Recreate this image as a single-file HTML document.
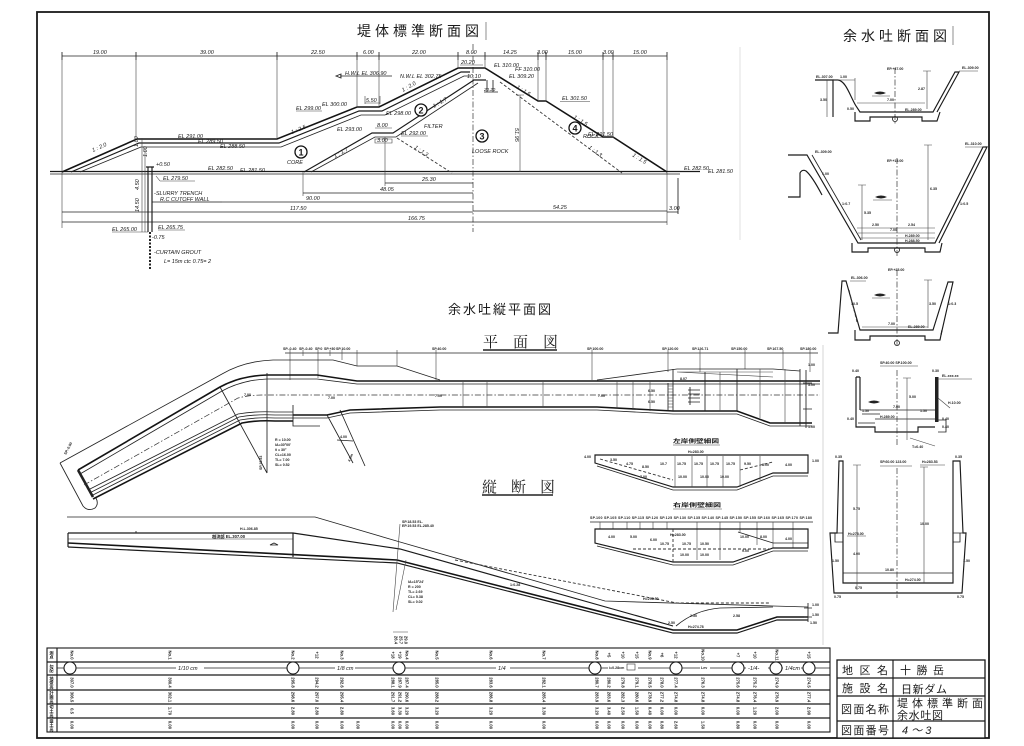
<!DOCTYPE html>
<html><head><meta charset="utf-8"><title>堤体標準断面図・余水吐図</title>
<style>
html,body{margin:0;padding:0;background:#fff;width:1024px;height:746px;overflow:hidden}
svg{display:block}
.l{fill:none;stroke:#1a1a1a;stroke-width:1.15}
.b{fill:none;stroke:#141414;stroke-width:1.6}
.m{fill:none;stroke:#222;stroke-width:0.85}
.n{fill:none;stroke:#444;stroke-width:0.6}
.d{fill:none;stroke:#333;stroke-width:0.7;stroke-dasharray:6 2 1.5 2}
.ds{fill:none;stroke:#333;stroke-width:0.9;stroke-dasharray:3 2}
.t{font-family:"Liberation Sans","Noto Sans CJK JP",sans-serif;font-style:italic;fill:#161616;font-size:5.5px}
.s{font-family:"Liberation Sans","Noto Sans CJK JP",sans-serif;font-weight:bold;fill:#222;font-size:3.6px}
.v{font-family:"Liberation Sans","Noto Sans CJK JP",sans-serif;font-weight:bold;fill:#222;font-size:4.2px;writing-mode:vertical-rl}
.j{font-family:"Liberation Sans","Noto Sans CJK JP",sans-serif;fill:#1a1a1a}
.k{font-family:"Liberation Serif","Noto Serif CJK SC",serif;fill:#1a1a1a}
</style></head><body>
<svg width="1024" height="746" viewBox="0 0 1024 746" xmlns="http://www.w3.org/2000/svg">
<rect x="0" y="0" width="1024" height="746" fill="#fff"/>
<!-- frame -->
<rect x="37" y="12" width="952" height="726" fill="none" stroke="#1a1a1a" stroke-width="1.8"/>
<line x1="740" y1="47" x2="740" y2="240" stroke="#ccc" stroke-width="0.6"/>
<line x1="823" y1="345" x2="823" y2="645" stroke="#bbb" stroke-width="0.6"/>

<!-- ================= DAM SECTION ================= -->
<text class="j" x="357" y="36" font-size="14" letter-spacing="4">堤体標準断面図</text>
<line class="n" x1="486" y1="22" x2="486" y2="40"/>

<path class="m" d="M62,56 H667"/>
<path class="m" d="M62,52V60M136,52V60M277,52V60M357,52V60M379,52V60M458,52V60M485,52V60M538,52V60M546,52V60M603,52V60M613,52V60M667,52V60"/>
<path class="n" d="M62,56V228M136,56V138M277,56V138M357,56V106M379,56V106M458,56V67M485,56V67M538,56V100M546,56V100M603,56V136M613,56V136M667,56V225"/>
<line class="d" x1="473" y1="44" x2="473" y2="232"/>
<g class="t">
<text x="93" y="54">19.00</text><text x="200" y="54">39.00</text><text x="311" y="54">22.50</text>
<text x="363" y="54">6.00</text><text x="412" y="54">22.00</text><text x="466" y="54">8.00</text>
<text x="503" y="54">14.25</text><text x="537" y="54">3.00</text><text x="568" y="54">15.00</text>
<text x="603" y="54">3.00</text><text x="633" y="54">15.00</text>
</g>

<!-- ground -->
<path class="l" d="M50,171.5 H700"/>
<path class="m" d="M50,174 H680"/>
<!-- outer surface -->
<path class="b" d="M62,172 L137,139 L277,139 L357,107 L379,107 L458,68 L485,68 L538,101 L546,101 L603,137 L613,137 L667,172"/>
<path class="l" d="M71,172 L139,143 L279,143 L359,111 L382,111 L461,72 L470,72"/>
<path class="m" d="M80,172 L141,147 L281,147 L361,115 L385,115 L464,76 L470,76"/>
<!-- core / filter -->
<path class="l" d="M304,172 L372,133 L393,133 L474,80 L486,80"/>
<path class="m" d="M311,172 L375,137 L396,137 L478,83"/>
<path class="ds" d="M397,138 L452,173"/>
<path class="ds" d="M500,82 L622,173"/>
<path class="m" d="M487,80 V92 M493,80 V92 M484,92 H498"/>
<path class="n" d="M520,95 V172 M516,95 H524"/>
<path class="n" d="M460,65 H483"/>
<path class="n" d="M365,103 H380 M365,96 V104 M380,96 V104"/>
<path class="n" d="M375,128 H392 M375,139 H392 V143 H375 Z"/>
<path class="m" d="M340,76 H392"/>
<path class="m" d="M336,76 l5,-2 v4 z" fill="#222"/>

<!-- circles -->
<g class="j" font-weight="bold" font-size="9" text-anchor="middle">
<circle cx="301" cy="152" r="6" fill="#fff" stroke="#111" stroke-width="1.3"/><text x="301" y="155.5">1</text>
<circle cx="421" cy="110" r="6" fill="#fff" stroke="#111" stroke-width="1.3"/><text x="421" y="113.5">2</text>
<circle cx="482" cy="136" r="6" fill="#fff" stroke="#111" stroke-width="1.3"/><text x="482" y="139.5">3</text>
<circle cx="575" cy="128" r="6" fill="#fff" stroke="#111" stroke-width="1.3"/><text x="575" y="131.5">4</text>
</g>
<g class="t">
<text x="287" y="164">CORE</text>
<text x="424" y="128">FILTER</text>
<text x="472" y="153">LOOSE ROCK</text>
<text x="583" y="138">ROCK</text>
<text x="178" y="138">EL 291.00</text><path class="n" d="M178,139.5 H205"/>
<text x="198" y="143">EL 289.50</text>
<text x="220" y="148">EL 288.50</text>
<text x="296" y="110">EL 299.00</text><path class="n" d="M296,111 H322"/>
<text x="322" y="106">EL 300.00</text>
<text x="366" y="102">5.50</text>
<text x="345" y="75">H.W.L EL 306.90</text>
<text x="400" y="78">N.W.L EL 302.75</text>
<text x="386" y="115">EL 298.00</text>
<text x="337" y="131">EL 293.00</text>
<text x="377" y="127">8.00</text>
<text x="377" y="142">3.00</text>
<text x="401" y="135">EL 292.00</text><path class="n" d="M401,136 H428"/>
<text x="461" y="64">20.20</text>
<text x="467" y="78">10.10</text>
<text x="484" y="91" font-size="4.5">20.20</text>
<text x="494" y="67">EL 310.00</text>
<text x="515" y="71">FF 310.00</text>
<text x="509" y="78">EL 309.20</text>
<text x="562" y="100">EL 301.50</text><path class="n" d="M560,101.5 H590"/>
<text x="588" y="136">EL 291.50</text><path class="n" d="M586,137.5 H615"/>
<text x="684" y="170">EL 282.50</text>
<text x="708" y="173">EL 281.50</text>
<text x="208" y="170">EL 282.50</text>
<text x="240" y="172">EL 281.50</text>
<text x="93" y="152" transform="rotate(-24 93 152)">1 : 2.0</text>
<text x="292" y="134" transform="rotate(-22 292 134)">1 : 2.5</text>
<text x="403" y="92" transform="rotate(-30 403 92)">1 : 2.0</text>
<text x="434" y="108" transform="rotate(-30 434 108)">1 : 1.7</text>
<text x="335" y="158" transform="rotate(-30 335 158)">1 : 1.7</text>
<text x="414" y="148" transform="rotate(34 414 148)">1 : 1.3</text>
<text x="516" y="88" transform="rotate(32 516 88)">1 : 1.5</text>
<text x="573" y="118" transform="rotate(32 573 118)">1 : 1.5</text>
<text x="632" y="156" transform="rotate(32 632 156)">1 : 1.5</text>
<text x="588" y="148" transform="rotate(36 588 148)">1 : 1.3</text>
<text x="515" y="128" transform="rotate(90 515 128)">51.95</text>
</g>

<!-- lower dims -->
<path class="n" d="M385,137 V186 M303,172 V196"/>
<path class="m" d="M385,183 H473 M303,193 H473 M152,202 H473 M62,212 H473 M62,222 H667 M473,211 H667 M667,212 H678 M678,178 V214"/>
<g class="t">
<text x="422" y="181">25.30</text><text x="380" y="191">48.05</text><text x="306" y="200">90.00</text>
<text x="290" y="210">117.50</text><text x="408" y="220">166.75</text><text x="553" y="209">54.25</text><text x="669" y="210">3.00</text>
</g>

<!-- cutoff wall -->
<path class="l" d="M148,167 V232 M152,167 V232 M146,167 H154"/>
<line x1="150" y1="232" x2="150" y2="270" stroke="#222" stroke-width="2" stroke-dasharray="2 1.5"/>
<path class="n" d="M142,138 V232 M145,150 V232"/>
<path class="n" d="M160,181 H195 M160,181 L156,176 M112,232 H148 M158,230 H185 M160,202 H222"/>
<g class="t">
<text x="156" y="166">+0.50</text>
<text x="163" y="180">EL 279.50</text>
<text x="154" y="195">-SLURRY TRENCH</text>
<text x="160" y="201">R.C CUTOFF WALL</text>
<text x="158" y="229">EL 265.75</text>
<text x="112" y="231">EL 265.00</text>
<text x="152" y="239">-0.75</text>
<text x="154" y="254">-CURTAIN GROUT</text>
<text x="164" y="263">L= 15m ctc 0.75= 2</text>
<text x="138" y="147" transform="rotate(-90 138 147)">1.00</text>
<text x="139" y="190" transform="rotate(-90 139 190)">4.50</text>
<text x="139" y="212" transform="rotate(-90 139 212)">14.50</text>
<text x="147" y="157" transform="rotate(-90 147 157)">1.00</text>
</g>

<!-- ================= SPILLWAY SECTIONS (right) ================= -->
<text class="j" x="843" y="41" font-size="14" letter-spacing="4">余水吐断面図</text>
<line class="n" x1="953" y1="26" x2="953" y2="45"/>

<!-- section 1 -->
<path class="l" d="M815,80 H833 V117"/>
<path class="l" d="M833,80 H838 C846,81 850,96 856,106 L860,112 H933 L955,72 H959 L937,112"/>
<path class="l" d="M855,112 V121 H870 V117 H922 V121 H937 L940,112"/>
<line class="d" x1="895" y1="68" x2="895" y2="124"/>
<circle cx="895" cy="119" r="2.5" class="m"/>
<path class="n" d="M857,103 H925 M927,71 V109 M923,71 H931 M833,80 H855 M855,78 V100 M959,71 H978 M827,80 V117"/>
<path d="M874,93 q6,-3 12,0 q-6,3 -12,0z" fill="#222"/><path class="n" d="M872,96 H890"/>
<g class="s">
<text x="887" y="70">EP.+37.00</text><text x="816" y="78">EL.307.00</text><text x="840" y="78">1.00</text>
<text x="887" y="101">7.00</text><text x="905" y="111">EL.289.00</text><text x="962" y="69">EL.309.00</text>
<text x="918" y="90">2.87</text><text x="820" y="101">3.50</text><text x="847" y="110">0.50</text>
</g>

<!-- section 2 -->
<path class="l" d="M788,197 H800 V173 Q802,169 806,171 Q812,176 822,195"/>
<path class="l" d="M788,155 H807 L858,243 H935 L983,147 H987 L939,243"/>
<path class="m" d="M812,155 L861,240"/>
<path class="l" d="M852,243 V252 H868 V248 H925 V252 H940 L942,243"/>
<line class="d" x1="897" y1="158" x2="897" y2="256"/>
<circle cx="897" cy="250" r="2.5" class="m"/>
<path class="n" d="M857,228 H935 M858,233 H935 M860,238 H935 M862,185 V240 M858,185 H866 M928,145 V240 M924,145 H932 M965,147 H985"/>
<path d="M875,197 q6,-3 12,0 q-6,3 -12,0z" fill="#222"/><path class="n" d="M873,200 H892"/>
<g class="s">
<text x="815" y="153">EL.309.00</text><text x="887" y="162">EP.+15.00</text><text x="965" y="145">EL.310.00</text>
<text x="872" y="226">2.50</text><text x="908" y="226">2.54</text><text x="890" y="231">7.00</text>
<text x="905" y="237">H.289.00</text><text x="905" y="242">H.288.50</text><text x="864" y="214">5.35</text>
<text x="930" y="190">6.35</text><text x="822" y="175">1.00</text><text x="842" y="205">1:0.7</text><text x="960" y="205">1:0.5</text>
</g>

<!-- section 3 -->
<path class="l" d="M828,333 H838 L842,281 H846 L860,330 H933 L948,282 H953 L941,335"/>
<path class="ds" d="M849,290 L857,322"/>
<path class="l" d="M855,330 V340 H870 V336 H925 V340 H940 L942,330"/>
<line class="d" x1="897" y1="270" x2="897" y2="346"/>
<circle cx="897" cy="343" r="2.5" class="m"/>
<path class="n" d="M928,280 V328 M924,280 H932 M862,327 H928 M850,281 H866"/>
<path d="M874,295 q6,-3 12,0 q-6,3 -12,0z" fill="#222"/><path class="n" d="M872,298 H890"/>
<g class="s">
<text x="888" y="271">EP.+25.00</text><text x="851" y="279">EL.306.00</text><text x="888" y="325">7.00</text>
<text x="908" y="328">EL.289.00</text><text x="929" y="305">3.50</text><text x="948" y="305">1:0.3</text><text x="851" y="305">10.5</text>
</g>

<!-- section 4 -->
<text class="s" x="880" y="364">SP.40.00   SP.100.00</text>
<path class="n" d="M880,366 H918"/>
<path class="l" d="M856,377 V427 H875 V432 H918 V427 H935 M860,377 V410 M856,377 H860"/>
<rect x="935" y="377" width="3.5" height="45" fill="#222"/>
<path class="m" d="M860,410 H935 M862,414 H880 M875,419 H935 M858,423 H875 M938,420 H946 V432 H938"/>
<path class="n" d="M938,379 H972 M907,378 V440 M903,378 H911 M910,438 L935,446 M938,398 L950,408"/>
<line class="d" x1="897" y1="370" x2="897" y2="445"/>
<path d="M868,402 q6,-3 12,0 q-6,3 -12,0z" fill="#222"/>
<g class="s">
<text x="852" y="372">0.40</text><text x="932" y="372">0.30</text><text x="942" y="377">EL.xxx.xx</text>
<text x="893" y="408">7.00</text><text x="909" y="398">5.00</text><text x="862" y="412">1.50</text><text x="920" y="412">1.50</text>
<text x="942" y="420">0.40</text><text x="942" y="428">0.40</text><text x="912" y="448">T=0.40</text><text x="948" y="404">H.10.00</text>
<text x="880" y="418">H.289.00</text><text x="847" y="420">0.40</text>
</g>

<!-- section 5 -->
<text class="s" x="880" y="463">SP.60.00  123.00</text>
<path class="n" d="M880,466 H912"/>
<text class="s" x="922" y="463">H=283.53</text>
<path class="n" d="M920,465 H945"/>
<path class="l" d="M839,461 H843 V583 H953 V461 H960 L963,533 H966 L962,593 H834 L830,533 H837 Z"/>
<path class="m" d="M843,573 H953 M830,533 H843 M953,533 H966 M835,533 V542 H843 M953,542 H960 V533"/>
<line class="d" x1="897" y1="468" x2="897" y2="598"/>
<path class="n" d="M857,465 V590 M853,465 H861 M924,467 V583 M920,467 H928 M847,536 H866"/>
<g class="s">
<text x="835" y="458">0.35</text><text x="955" y="458">0.35</text><text x="853" y="510">5.75</text>
<text x="848" y="535">H=278.00</text><text x="853" y="555">4.00</text><text x="920" y="525">10.00</text>
<text x="885" y="571">10.80</text><text x="905" y="581">H=274.00</text><text x="834" y="598">0.75</text>
<text x="957" y="598">0.75</text><text x="855" y="589">0.75</text><text x="832" y="562">1.50</text><text x="963" y="562">1.50</text>
</g>

<!-- ================= PLAN ================= -->
<text class="j" x="448" y="314" font-size="13" letter-spacing="2">余水吐縦平面図</text>
<text class="k" x="483" y="347" font-size="15" letter-spacing="15">平面図</text>
<path d="M483,350 H557" stroke="#222" stroke-width="1.6"/>

<path class="m" d="M285,353 H818"/>
<path class="n" d="M290,350V380 M303,350V356 M318,350V378 M330,350V356 M342,350V360 M357,350V366 M397,350V366 M436,350V380 M592,350V380 M668,350V372 M700,350V372 M745,350V369 M783,350V369 M810,350V372"/>
<g class="s">
<text x="283" y="350">SP.-0.40</text><text x="299" y="350">SP.-0.40</text><text x="315" y="350">SP.0</text><text x="324" y="350">SP.+30</text><text x="336" y="350">SP.10.00</text>
<text x="432" y="350">SP.40.00</text><text x="587" y="350">SP.100.00</text><text x="662" y="350">SP.120.00</text><text x="692" y="350">SP.126.71</text>
<text x="731" y="350">SP.150.00</text><text x="767" y="350">SP.167.50</text><text x="800" y="350">SP.180.00</text>
</g>

<!-- outer top boundary -->
<path class="m" d="M60,463 L222,374 Q244,361 273,360 H333 L357,366 H397 L440,380"/>
<path class="m" d="M60,463 L83,506 Q88,512 95,508 Q99,504 96,498"/>
<path d="M78,470 L93,497" stroke="#222" stroke-width="2.6"/>
<!-- walls -->
<path class="b" d="M78,470 L220,387 Q240,376 267,375 H317 L357,381 H820"/>
<path class="m" d="M80,474 L222,391 Q242,380 267,379 H317 L357,384 H820"/>
<path class="d" d="M84,485 L238,398 Q250,395 262,395 H820"/>
<path class="m" d="M88,490 L238,414 Q255,411 275,412 H293"/>
<path class="m" d="M89.5,493 L239,417 Q256,414 275,415 H293"/>
<path class="m" d="M91,496 L240,420 Q257,417 275,418 H293"/>
<path class="b" d="M93,499 L242,423 Q258,420 275,421 H293"/>
<path class="b" d="M293,415 H327 L350,410 L440,407 H597 L673,411 H737 L770,423 H812"/>
<path class="m" d="M293,418 H327 L350,413 L440,410 H597 L673,414 H737 L770,426 H812"/>
<path class="m" d="M293,405 V426 M293,422 V426 H320"/>
<!-- right widening -->
<path class="m" d="M597,380 L677,369 H773 L800,371"/>
<path class="n" d="M677,372 H773 M677,372 L773,377"/>
<path class="m" d="M668,383 V411 M673,369 V411 M705,372 V411 M737,369 V411 M800,369 V426"/>
<path class="n" d="M668,386H673M668,389H673M668,392H673M668,395H673M668,398H673M668,401H673M668,404H673M668,407H673"/>
<path class="n" stroke="#888" d="M463,382V407 M487,382V407 M543,382V407 M617,381V409 M633,381V410 M650,381V411 M720,372V411 M760,369V418 M785,369V424"/>
<path class="m" d="M688,390 H700 M688,394 H700 M688,398 H700 M688,402 H700 M690,387 V405"/>
<path class="m" d="M806,370 V428 M803,383 H812 M803,409 H812"/>
<!-- radiating lines -->
<path class="m" d="M220,387 L267,473 M267,373 V473 M327,415 L353,463 M340,410 L365,466 M337,440 L353,441"/>
<g class="s">
<text x="275" y="441">R = 10.00</text><text x="275" y="446">IA=30°00'</text><text x="275" y="451">θ = 30°</text>
<text x="275" y="456">CL=16.00</text><text x="275" y="461">TL= 7.00</text><text x="275" y="466">SL= 0.52</text>
<text x="340" y="438">4.00</text><text x="244" y="396">7.00</text><text x="328" y="399">7.00</text><text x="435" y="397">7.00</text>
<text x="598" y="397">7.00</text><text x="680" y="380">8.07</text><text x="808" y="366">1.00</text><text x="808" y="386">3.00</text>
<text x="808" y="428">1.00</text><text x="262" y="470" transform="rotate(-90 262 470)">SP.18.53</text>
<text x="350" y="462" transform="rotate(-68 350 462)">4.0m</text>
<text x="66" y="455" transform="rotate(-62 66 455)">SP.-0.00</text>
<text x="648" y="392">6.50</text><text x="648" y="403">6.50</text>
</g>

<!-- left bank detail -->
<text class="j" x="673" y="443" font-size="5.5" font-weight="bold" textLength="46" lengthAdjust="spacingAndGlyphs">左岸側壁細図</text>
<path class="n" d="M673,445 H720"/>
<path class="l" d="M595,455 H808 V473 H773 L737,487 H673 L595,463 Z"/>
<path class="m" d="M597,466 L673,490 H737 L773,476 H808"/>
<path class="ds" d="M600,459 L673,480 M740,470 L773,462"/>
<path class="n" d="M675,456V487 M692,456V487 M707,456V487 M723,456V487 M740,456V487 M760,456V480"/>
<g class="s">
<text x="688" y="453">H=283.00</text><text x="584" y="458">4.00</text><text x="812" y="462">1.00</text>
<text x="610" y="461">3.50</text><text x="626" y="465">4.75</text><text x="642" y="468">8.50</text>
<text x="660" y="465">10.7</text><text x="677" y="465">10.75</text><text x="694" y="465">10.75</text>
<text x="710" y="465">10.75</text><text x="726" y="465">10.75</text><text x="744" y="465">9.50</text>
<text x="762" y="466">8.00</text><text x="785" y="466">4.00</text><text x="678" y="478">10.00</text>
<text x="700" y="478">10.00</text><text x="720" y="478">10.00</text><text x="640" y="478">7.00</text>
</g>

<!-- right bank detail -->
<text class="j" x="673" y="507" font-size="5.5" font-weight="bold" textLength="48" lengthAdjust="spacingAndGlyphs">右岸側壁細図</text>
<path class="n" d="M673,509 H722"/>
<text class="s" x="590" y="519" textLength="222" lengthAdjust="spacing">SP.100 SP.105 SP.110 SP.115 SP.120 SP.125 SP.130 SP.135 SP.140 SP.145 SP.150 SP.155 SP.160 SP.165 SP.170 SP.180</text>
<path class="m" d="M590,522 H813"/>
<path class="n" d="M600,522V529 M613,522V529 M627,522V529 M640,522V529 M653,522V529 M667,522V529 M697,522V560 M720,522V560 M740,522V532 M757,522V545 M773,522V548 M793,522V548"/>
<path class="l" d="M595,529 H808 V548 H773 L733,562 H673 L595,543 Z"/>
<path class="m" d="M597,546 L673,565 H733 L773,551 H808 M738,532 L773,543 H808"/>
<path class="ds" d="M633,549 H773 M673,529 V562"/>
<g class="s">
<text x="670" y="536">H=283.00</text><text x="608" y="538">4.00</text><text x="630" y="538">5.00</text>
<text x="650" y="541">6.00</text><text x="660" y="545">10.75</text><text x="682" y="545">10.75</text>
<text x="700" y="545">10.50</text><text x="740" y="538">10.00</text><text x="760" y="538">8.00</text>
<text x="785" y="540">4.00</text><text x="680" y="556">10.00</text><text x="700" y="556">10.00</text><text x="742" y="552">9.00</text>
</g>

<!-- ================= PROFILE ================= -->
<text class="k" x="482" y="492" font-size="15" letter-spacing="14">縦断図</text>
<path d="M482,495 H553" stroke="#222" stroke-width="1.6"/>
<path class="m" d="M67,517 H315 L400,542 L605,601 L773,606 L808,607"/>
<path class="ds" d="M455,560 L677,603 H770" stroke-dasharray="10 3"/>
<path class="l" d="M68,533 H293 L400,549 L673,626"/>
<path class="n" d="M68,539 H293"/>
<path class="b" d="M68,543 L397,560 L673,630 H737 L777,617 H808"/>
<path class="l" d="M68,547 L397,563 L673,633 H737 L777,620 H808"/>
<path class="l" d="M68,533 V547 M293,533 V557"/>
<path class="m" d="M676,626 Q695,610 720,608 L773,607"/>
<path class="m" d="M808,603 V622 M804,608 H812 M804,617 H812"/>
<path class="n" d="M400,524 L393,612 M406,560 L396,610 M393,632 H408"/>
<path class="m" d="M136,533 v-2 M270,545 l4,-2 l4,2 z"/>
<g class="s">
<text x="240" y="530">H.L.306.85</text>
<text x="212" y="538" font-size="4.2">越流部 EL.307.00</text>
<text x="402" y="523">SP.18.53 EL.</text><text x="402" y="527">EP.19.53 EL.285.40</text>
<text x="408" y="583">IA=15°24'</text><text x="408" y="588">R = 200</text><text x="408" y="593">TL= 2.69</text>
<text x="408" y="598">CL= 5.38</text><text x="408" y="603">SL= 0.02</text>
<text x="643" y="600">H=298.50</text><text x="668" y="624">2.50</text><text x="690" y="617">2.50</text>
<text x="688" y="628">H=274.78</text><text x="733" y="617">2.58</text><text x="812" y="606">1.00</text>
<text x="812" y="616">1.50</text><text x="810" y="624">1.50</text><text x="510" y="586">1:0.28</text>
</g>
<text class="v" x="396" y="640" text-anchor="middle">26.4</text>
<text class="v" x="401" y="640" text-anchor="middle">25.7</text>
<text class="v" x="406" y="640" text-anchor="middle">29.0</text>

<!-- ================= BOTTOM TABLE ================= -->
<rect x="47" y="648" width="783" height="84" fill="none" stroke="#1a1a1a" stroke-width="1.1"/>
<path class="l" d="M47,662 H830 M47,675 H830 M47,690 H830 M47,704 H830 M47,718 H830 M57,648 V732"/>
<g class="j" font-size="4.2" style="writing-mode:vertical-rl" text-anchor="middle" font-weight="bold">
<text x="52" y="655">測点</text><text x="52" y="668.5">勾配</text><text x="52" y="682.5">地盤高</text>
<text x="52" y="697">計画高</text><text x="52" y="711">切土高</text><text x="52" y="725">盛土高</text>
</g>
<path class="m" d="M57,668 H830"/>
<rect x="176" y="664" width="28" height="8" fill="#fff"/><text class="t" x="178" y="670" font-size="5">1/10 cm</text>
<rect x="335" y="664" width="20" height="8" fill="#fff"/><text class="t" x="337" y="670" font-size="5">1/8 cm</text>
<rect x="496" y="664" width="14" height="8" fill="#fff"/><text class="t" x="498" y="670" font-size="5">1/4</text>
<rect x="608" y="663" width="30" height="9" fill="#fff"/><text class="s" x="609" y="669">i=0.28cm</text><rect x="627" y="664" width="8" height="6" fill="none" stroke="#333" stroke-width="0.6"/>
<rect x="700" y="665" width="10" height="6" fill="#fff"/><text class="s" x="701" y="669">Lev</text>
<rect x="746" y="664" width="22" height="8" fill="#fff"/><text class="t" x="748" y="670" font-size="5">-1/4-</text>
<rect x="783" y="664" width="18" height="8" fill="#fff"/><text class="t" x="785" y="670" font-size="4.5">1/4cm</text>
<g fill="#fff" stroke="#1a1a1a" stroke-width="1.1">
<circle cx="70" cy="668" r="6"/><circle cx="293" cy="668" r="6"/><circle cx="399" cy="668" r="6"/>
<circle cx="595" cy="668" r="6"/><circle cx="676" cy="668" r="6"/><circle cx="738" cy="668" r="6"/>
<circle cx="776" cy="668" r="6"/><circle cx="809" cy="668" r="6"/>
</g>
<g class="v" text-anchor="middle">
<text x="72" y="655">No.0</text><text x="72" y="682.5">307.0</text><text x="72" y="697">306.5</text><text x="72" y="711">0.5</text><text x="72" y="725">0.00</text>
<text x="170" y="655">No.1</text><text x="170" y="682.5">300.4</text><text x="170" y="697">302.1</text><text x="170" y="711">1.70</text><text x="170" y="725">0.00</text>
<text x="293" y="655">No.2</text><text x="293" y="682.5">295.8</text><text x="293" y="697">298.6</text><text x="293" y="711">2.80</text><text x="293" y="725">0.00</text>
<text x="317" y="655">+12</text><text x="317" y="682.5">294.2</text><text x="317" y="697">297.0</text><text x="317" y="711">2.80</text><text x="317" y="725">0.00</text>
<text x="342" y="655">No.3</text><text x="342" y="682.5">292.6</text><text x="342" y="697">295.4</text><text x="342" y="711">2.80</text><text x="342" y="725">0.00</text>
<text x="358" y="725">0.00</text>
<text x="393" y="655">+18</text><text x="393" y="682.5">288.1</text><text x="393" y="697">291.7</text><text x="393" y="711">3.60</text><text x="393" y="725">0.00</text>
<text x="400" y="655">+19</text><text x="400" y="682.5">287.9</text><text x="400" y="697">291.2</text><text x="400" y="711">3.30</text><text x="400" y="725">0.00</text>
<text x="407" y="655">No.4</text><text x="407" y="682.5">287.4</text><text x="407" y="697">290.6</text><text x="407" y="711">3.20</text><text x="407" y="725">0.00</text>
<text x="437" y="655">No.5</text><text x="437" y="682.5">285.0</text><text x="437" y="697">288.2</text><text x="437" y="711">3.20</text><text x="437" y="725">0.00</text>
<text x="491" y="655">No.6</text><text x="491" y="682.5">283.6</text><text x="491" y="697">286.8</text><text x="491" y="711">3.20</text><text x="491" y="725">0.00</text>
<text x="544" y="655">No.7</text><text x="544" y="682.5">282.1</text><text x="544" y="697">285.4</text><text x="544" y="711">3.30</text><text x="544" y="725">0.00</text>
<text x="597" y="655">No.8</text><text x="597" y="682.5">280.7</text><text x="597" y="697">283.9</text><text x="597" y="711">3.20</text><text x="597" y="725">0.00</text>
<text x="609" y="655">+5</text><text x="609" y="682.5">280.2</text><text x="609" y="697">283.6</text><text x="609" y="711">3.40</text><text x="609" y="725">0.00</text>
<text x="623" y="655">+10</text><text x="623" y="682.5">279.8</text><text x="623" y="697">282.3</text><text x="623" y="711">2.50</text><text x="623" y="725">0.00</text>
<text x="637" y="655">+15</text><text x="637" y="682.5">279.1</text><text x="637" y="697">280.6</text><text x="637" y="711">1.50</text><text x="637" y="725">0.00</text>
<text x="650" y="655">No.9</text><text x="650" y="682.5">278.5</text><text x="650" y="697">278.9</text><text x="650" y="711">0.40</text><text x="650" y="725">0.00</text>
<text x="662" y="655">+6</text><text x="662" y="682.5">278.0</text><text x="662" y="697">277.2</text><text x="662" y="711">0.00</text><text x="662" y="725">0.80</text>
<text x="676" y="655">+12</text><text x="676" y="682.5">277.4</text><text x="676" y="697">274.8</text><text x="676" y="711">0.00</text><text x="676" y="725">2.60</text>
<text x="703" y="655">No.10</text><text x="703" y="682.5">276.3</text><text x="703" y="697">274.8</text><text x="703" y="711">0.00</text><text x="703" y="725">1.50</text>
<text x="738" y="655">+7</text><text x="738" y="682.5">275.6</text><text x="738" y="697">274.8</text><text x="738" y="711">0.00</text><text x="738" y="725">0.80</text>
<text x="755" y="655">+10</text><text x="755" y="682.5">275.2</text><text x="755" y="697">276.4</text><text x="755" y="711">1.20</text><text x="755" y="725">0.00</text>
<text x="777" y="655">No.11</text><text x="777" y="682.5">274.9</text><text x="777" y="697">276.9</text><text x="777" y="711">2.00</text><text x="777" y="725">0.00</text>
<text x="809" y="655">+15</text><text x="809" y="682.5">274.5</text><text x="809" y="697">277.4</text><text x="809" y="711">2.90</text><text x="809" y="725">0.00</text>
</g>

<!-- ================= TITLE BLOCK ================= -->
<rect x="837" y="660" width="148" height="78" fill="#fff" stroke="#1a1a1a" stroke-width="1.3"/>
<path class="l" d="M837,678 H985 M837,696 H985 M837,721 H985 M893,660 V738"/>
<g class="j" font-size="11">
<text x="842" y="674" textLength="46" lengthAdjust="spacing">地区名</text>
<text x="900" y="674" textLength="44" lengthAdjust="spacing">十勝岳</text>
<text x="842" y="692" textLength="46" lengthAdjust="spacing">施設名</text>
<text x="901" y="693" textLength="46" lengthAdjust="spacing">日新ダム</text>
<text x="841" y="713" textLength="48" lengthAdjust="spacing">図面名称</text>
<text x="897" y="707" textLength="86" lengthAdjust="spacing">堤体標準断面</text>
<text x="897" y="719" textLength="46" lengthAdjust="spacing">余水吐図</text>
<text x="841" y="734" textLength="48" lengthAdjust="spacing">図面番号</text>
<text x="902" y="734" font-style="italic">4 〜 3</text>
</g>
</svg>
</body></html>
